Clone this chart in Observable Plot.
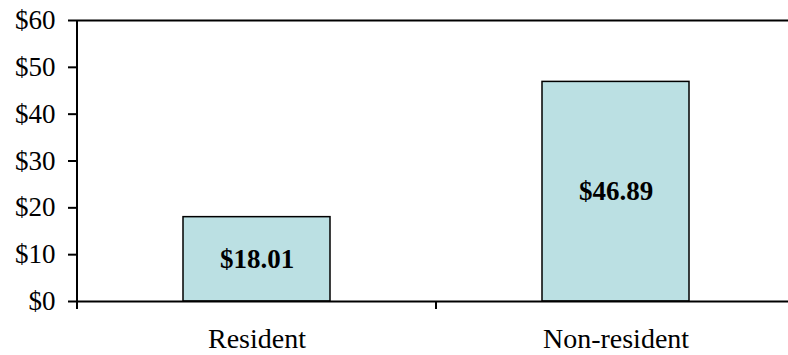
<!DOCTYPE html>
<html>
<head>
<meta charset="utf-8">
<script src="https://cdn.jsdelivr.net/npm/d3@7"></script>
<script src="https://cdn.jsdelivr.net/npm/@observablehq/plot@0.6"></script>
<style>
  html, body { margin: 0; padding: 0; background: #fff; }
  #chart svg { display: block; }
</style>
</head>
<body>
<div id="chart"></div>
<script>
// Average fee by visitor type
const categories = ["Resident", "Non-resident"];
const fees = [18.01, 46.89];
const yTicks = [0, 10, 20, 30, 40, 50, 60];

const data = categories.map((category, i) => ({category, value: fees[i]}));

const font = "'Liberation Serif', 'Times New Roman', serif";

const chart = Plot.plot({
  width: 788,
  height: 355,
  marginLeft: 77,
  marginTop: 20,
  marginBottom: 54,
  marginRight: -7,
  style: {fontFamily: font, fontSize: "27px", color: "#000", background: "#fff"},
  x: {domain: categories, paddingInner: 0.59, paddingOuter: 0.295, label: null},
  y: {domain: [0, 60], ticks: yTicks, tickFormat: d => "$" + d, label: null},
  marks: [
    Plot.ruleY([60], {stroke: "#000", strokeWidth: 2}),
    Plot.axisY({ticks: yTicks, tickFormat: d => "$" + d, tickSize: 9, tickPadding: 13, strokeWidth: 2, label: null}),
    Plot.axisX({tickSize: 0, tickPadding: 27, fontSize: 28, label: null, style: {letterSpacing: "3px"}}),
    Plot.barY(data, {x: "category", y: "value", fill: "#bbe0e3", stroke: "#000", strokeWidth: 1.5}),
    Plot.ruleY([0], {stroke: "#000", strokeWidth: 2}),
    Plot.text(data, {
      x: "category",
      y: d => d.value / 2,
      text: d => "$" + d.value.toFixed(2),
      fontWeight: "bold",
      fontSize: 27,
      fill: "#000"
    })
  ]
});

// Category axis: vertical axis line plus tick marks between categories
const xs = chart.scale("x");
const ys = chart.scale("y");
const y0 = ys.apply(0);
const yTop = ys.apply(60);
const bounds = categories.map(c => xs.apply(c) + xs.bandwidth / 2 - xs.step / 2);
bounds.push(bounds[bounds.length - 1] + xs.step);
const g = d3.select(chart).append("g").attr("stroke", "#000").attr("stroke-width", 2);
g.append("line").attr("x1", bounds[0]).attr("x2", bounds[0]).attr("y1", yTop).attr("y2", y0 + 8);
bounds.slice(1).forEach(b => {
  g.append("line").attr("x1", b).attr("x2", b).attr("y1", y0).attr("y2", y0 + 8);
});

document.getElementById("chart").appendChild(chart);
</script>
</body>
</html>
